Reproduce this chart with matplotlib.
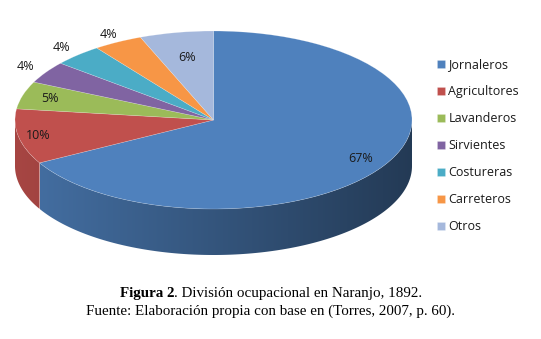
import numpy as np
import matplotlib
matplotlib.use('Agg')
from matplotlib import pyplot as plt
from matplotlib import colors as mcolors
from matplotlib.patches import Polygon

labels = ['Jornaleros', 'Agricultores', 'Lavanderos', 'Sirvientes',
          'Costureras', 'Carreteros', 'Otros']
values = [67, 10, 5, 4, 4, 4, 6]
pct_text = ['67%', '10%', '5%', '4%', '4%', '4%', '6%']
slice_colors = ['#4F81BD', '#C0504D', '#9BBB59', '#8064A2',
                '#4BACC6', '#F79646', '#A5B8DC']
label_r = [0.86, 0.90, 0.86, 1.12, 1.12, 1.10, 0.72]

W, H = 541, 339
cx, cy = 213.5, 120       # pie centre, px
rx, ry = 198.5, 89        # ellipse semi axes, px
depth = 46 / ry           # side wall height in data units

fig = plt.figure(figsize=(W / 100, H / 100), dpi=100)
ax = fig.add_axes([0, 0, 1, 1])

wedges, _ = ax.pie(values, colors=slice_colors, startangle=90,
                   counterclock=False, radius=1, center=(0, 0),
                   wedgeprops=dict(linewidth=0.4, edgecolor=(1, 1, 1, 0.3)))
for w in wedges:
    w.set_zorder(5)

# angles of every slice (clockwise from 90 deg)
fr = np.array(values) / np.sum(values)
ends = 90 - 360 * np.cumsum(fr)
starts = np.r_[90, ends[:-1]]

# side wall of the front half, shaded dark to the right
for a0, a1, col in zip(starts, ends, slice_colors):
    lo, hi = min(a0, a1), max(a0, a1)
    for shift in (0, -360, 360):
        l, h = max(lo + shift, -180), min(hi + shift, 0)
        if h <= l:
            continue
        t = np.radians(np.linspace(l, h, 200))
        xs = np.r_[np.cos(t), np.cos(t[::-1])]
        ys = np.r_[np.sin(t), np.sin(t[::-1]) - depth]
        poly = Polygon(np.c_[xs, ys], closed=True, fc='none', ec='none')
        ax.add_patch(poly)
        gx = np.linspace(xs.min(), xs.max(), 300)
        shade = 0.66 - 0.21 * gx
        base = np.array(mcolors.to_rgb(col))
        img = np.clip(shade[None, :, None] * base[None, None, :], 0, 1)
        im = ax.imshow(img, extent=[gx[0], gx[-1], -1 - depth, 0],
                       aspect='auto', interpolation='bilinear', zorder=2)
        im.set_clip_path(poly)

ax.set_aspect('auto')
ax.set_xlim(-cx / rx, (W - cx) / rx)
ax.set_ylim((cy - H) / ry, cy / ry)
ax.axis('off')

# percentage labels
for a0, a1, r, txt in zip(starts, ends, label_r, pct_text):
    m = np.radians((a0 + a1) / 2)
    ax.text(r * np.cos(m), r * np.sin(m), txt, ha='center', va='center',
            fontsize=9, family='Open Sans', color='#1a1a1a', zorder=10)

leg = ax.legend(wedges, labels, loc='upper left',
                bbox_to_anchor=(426 / W, 1 - 47 / H),
                bbox_transform=fig.transFigure, frameon=False,
                prop=dict(family='Open Sans', size=9),
                handlelength=0.65, handleheight=0.65, handletextpad=0.25,
                labelspacing=1.12)
for t in leg.get_texts():
    t.set_color('#1a1a1a')

# caption, first line centred as a whole
cap_fs = 10.8
rend = fig.canvas.get_renderer()
t1 = fig.text(0, 1 - 293 / H, 'Figura 2', ha='left', va='center',
              family='Liberation Serif', fontweight='bold', fontsize=cap_fs)
t2 = fig.text(0, 1 - 293 / H, '. División ocupacional en Naranjo, 1892.',
              ha='left', va='center', family='Liberation Serif',
              fontsize=cap_fs)
w1 = t1.get_window_extent(rend).width
w2 = t2.get_window_extent(rend).width
x0 = 271 - (w1 + w2) / 2
t1.set_x(x0 / W)
t2.set_x((x0 + w1) / W)
fig.text(271 / W, 1 - 311 / H,
         'Fuente: Elaboración propia con base en (Torres, 2007, p. 60).',
         ha='center', va='center', family='Liberation Serif', fontsize=cap_fs)

fig.savefig('out.png', dpi=100)
